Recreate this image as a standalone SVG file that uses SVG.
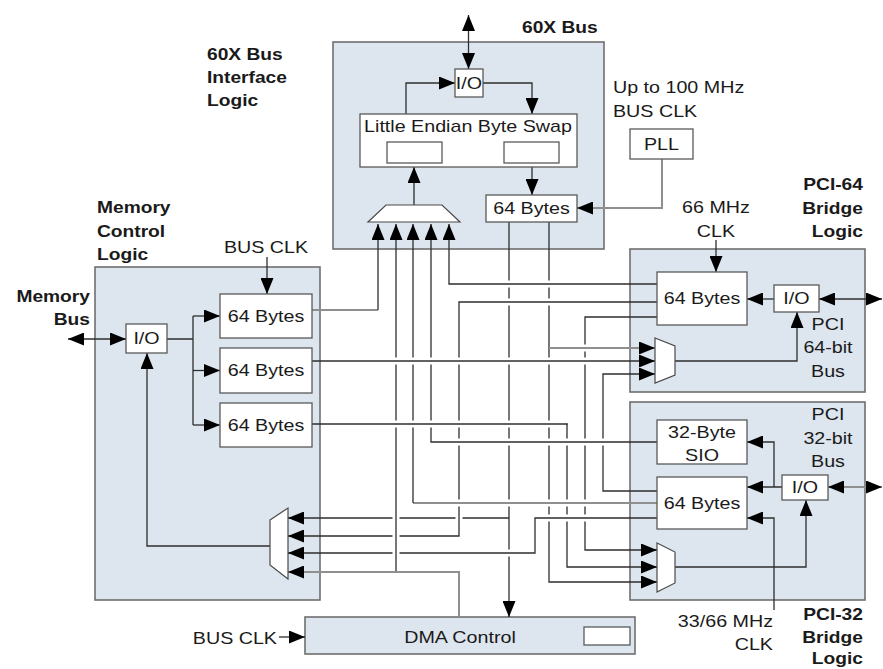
<svg xmlns="http://www.w3.org/2000/svg" width="883" height="669" viewBox="0 0 883 669">
<defs>
<style>
.t{font-family:"Liberation Sans",Arial,Helvetica,sans-serif;font-size:16.4px;fill:#1a1a1a;transform-box:fill-box;transform:scaleX(1.2)}
.c{text-anchor:middle;transform-origin:50% 50%}
.l{transform-origin:0% 50%}
.r{text-anchor:end;transform-origin:100% 50%}
.b{font-weight:bold;font-size:16px}
.blk{fill:#dde5ee;stroke:#6f6f6f;stroke-width:1.6}
.box{fill:#fff;stroke:#5a5a5a;stroke-width:1.3}
.mux{fill:#fff;stroke:#4a4a4a;stroke-width:1.2}
.ln{fill:none;stroke:#2e2e2e;stroke-width:1.3}
.g{fill:none;stroke:#8f8f8f;stroke-width:2}
.h{fill:none;stroke:#fff;stroke-width:7}
</style>
<marker id="a" viewBox="0 0 10 10" refX="10" refY="5" markerWidth="16" markerHeight="13" markerUnits="userSpaceOnUse" orient="auto-start-reverse" preserveAspectRatio="none"><path d="M0,0L10,5L0,10z" fill="#000"/></marker>
<clipPath id="mid"><rect x="321" y="250" width="308" height="366"/></clipPath>
</defs>
<rect width="883" height="669" fill="#fff"/>

<g id="block-60x">
<rect class="blk" x="333" y="42" width="271" height="207"/>
<text class="t b l" x="522" y="33">60X Bus</text>
<text class="t b l" x="207" y="60">60X Bus</text>
<text class="t b l" x="207" y="83">Interface</text>
<text class="t b l" x="207" y="106">Logic</text>
</g>
<g id="block-memory">
<rect class="blk" x="95" y="267" width="225" height="333"/>
<text class="t b l" x="97" y="213">Memory</text>
<text class="t b l" x="97" y="237">Control</text>
<text class="t b l" x="97" y="260">Logic</text>
<text class="t b r" x="90" y="302">Memory</text>
<text class="t b r" x="90" y="325">Bus</text>
<text class="t c" x="266" y="253">BUS CLK</text>
</g>
<g id="block-pci64">
<rect class="blk" x="630" y="249" width="235" height="143"/>
<text class="t b r" x="863" y="190">PCI-64</text>
<text class="t b r" x="863" y="214">Bridge</text>
<text class="t b r" x="863" y="237">Logic</text>
<text class="t c" x="716" y="213">66 MHz</text>
<text class="t c" x="716" y="237">CLK</text>
<text class="t c" x="828" y="330">PCI</text>
<text class="t c" x="828" y="353">64-bit</text>
<text class="t c" x="828" y="377">Bus</text>
</g>
<g id="block-pci32">
<rect class="blk" x="630" y="402" width="235" height="198"/>
<text class="t c" x="828" y="420">PCI</text>
<text class="t c" x="828" y="444">32-bit</text>
<text class="t c" x="828" y="467">Bus</text>
<text class="t r" x="773" y="627">33/66 MHz</text>
<text class="t r" x="773" y="650">CLK</text>
<text class="t b r" x="863" y="620">PCI-32</text>
<text class="t b r" x="863" y="643">Bridge</text>
<text class="t b r" x="863" y="664">Logic</text>
</g>
<g id="dma">
<rect class="blk" x="305" y="617" width="330" height="37"/>
<rect class="box" x="584" y="627" width="46" height="18"/>
<text class="t c" x="460" y="643">DMA Control</text>
<text class="t r" x="277" y="644">BUS CLK</text>
</g>
<g id="pll-label">
<text class="t l" x="613" y="93">Up to 100 MHz</text>
<text class="t l" x="613" y="117">BUS CLK</text>
</g>

<g id="connectors">
<path class="ln" d="M468.5,15 V69" marker-start="url(#a)" marker-end="url(#a)"/>
<path class="ln" d="M406,114 V83 H455" marker-end="url(#a)"/>
<path class="ln" d="M483,83 H532 V114" marker-end="url(#a)"/>
<path class="ln" d="M532,167 V195" marker-end="url(#a)"/>
<path class="ln" d="M414,205 V167" marker-end="url(#a)"/>
<path class="g" d="M662,159 V208 H577" marker-end="url(#a)"/>
<path class="ln" d="M267,257 V294" marker-end="url(#a)"/>
<path class="ln" d="M68,339 H126" marker-start="url(#a)" marker-end="url(#a)"/>
<path class="ln" d="M167,339 H193 M193,316 V425"/>
<path class="ln" d="M193,316 H220" marker-end="url(#a)"/>
<path class="ln" d="M193,370.5 H220" marker-end="url(#a)"/>
<path class="ln" d="M193,425 H220" marker-end="url(#a)"/>
<path class="ln" d="M270,546 H147 V353" marker-end="url(#a)"/>
<path class="ln" d="M716,240 V272" marker-end="url(#a)"/>
<path class="ln" d="M774,299 H747" marker-end="url(#a)"/>
<path class="ln" d="M819,299 H882" marker-start="url(#a)" marker-end="url(#a)"/>
<path class="ln" d="M675,361 H797 V312" marker-end="url(#a)"/>
<path class="ln" d="M782,487 H747" marker-end="url(#a)"/>
<path class="ln" d="M774,487 V442 H747" marker-end="url(#a)"/>
<path class="g" d="M828,487 H882" marker-start="url(#a)" marker-end="url(#a)"/>
<path class="ln" d="M774,610 V518 H747" marker-end="url(#a)"/>
<path class="ln" d="M675,567 H806 V500" marker-end="url(#a)"/>
<path class="ln" d="M279,637 H305" marker-end="url(#a)"/>
<g id="c9"><path class="h" clip-path="url(#mid)" d="M657,317 H585 V550 H657"/><path class="ln" d="M657,317 H585 V550 H657" marker-end="url(#a)"/></g>
<g id="c7"><path class="h" clip-path="url(#mid)" d="M549,222 V582 H657 M549,348 H655"/><path class="ln" d="M549,222 V582 H657" marker-end="url(#a)"/><path class="g" d="M549,348 H655" marker-end="url(#a)"/></g>
<g id="c6"><path class="h" clip-path="url(#mid)" d="M509,222 V617 M509,518 H288"/><path class="ln" d="M509,222 V617" marker-end="url(#a)"/><path class="ln" d="M509,518 H288" marker-end="url(#a)"/></g>
<g id="c12b"><path class="ln" d="M567,423.4 V567 H657" marker-end="url(#a)"/></g>
<g id="c11"><path class="h" clip-path="url(#mid)" d="M657,491 H603 V374 H655"/><path class="ln" d="M657,491 H603 V374 H655" marker-end="url(#a)"/></g>
<g id="c8"><path class="h" clip-path="url(#mid)" d="M657,302 H459 V536 H288"/><path class="ln" d="M657,302 H459 V536 H288" marker-end="url(#a)"/></g>
<g id="c13"><path class="h" clip-path="url(#mid)" d="M657,518 H535 V553 H288"/><path class="ln" d="M657,518 H535 V553 H288" marker-end="url(#a)"/></g>
<g id="c2"><path class="h" clip-path="url(#mid)" d="M396,572 V240"/><path class="ln" d="M396,572 V224" marker-end="url(#a)"/></g>
<g id="c3"><path class="h" clip-path="url(#mid)" d="M657,503 H413 V240"/><path class="g" d="M657,503 H413"/><path class="ln" d="M413,503 V224" marker-end="url(#a)"/></g>
<g id="c4"><path class="h" clip-path="url(#mid)" d="M657,442 H431 V240"/><path class="ln" d="M657,442 H431 V224" marker-end="url(#a)"/></g>
<g id="c5"><path class="h" clip-path="url(#mid)" d="M657,284 H449 V240"/><path class="ln" d="M657,284 H449 V224" marker-end="url(#a)"/></g>
<g id="c10"><path class="h" clip-path="url(#mid)" d="M312,361 H655"/><path class="ln" d="M312,361 H655" marker-end="url(#a)"/></g>
<g id="c12a"><path class="h" clip-path="url(#mid)" d="M312,424 H564"/><path class="ln" d="M312,424 H567.6"/></g>
<g id="c1"><path class="g" d="M312,310 H378"/><path class="ln" d="M378,310 V224" marker-end="url(#a)"/></g>
<g id="c14"><path class="g" d="M459,617 V572 H288" marker-end="url(#a)"/></g>
</g>

<g id="io-60x"><rect class="box" x="455" y="69" width="28" height="28"/><text class="t c" x="469" y="89">I/O</text></g>
<g id="byteswap"><rect class="box" x="360" y="114" width="217" height="53"/><rect class="box" x="387" y="142" width="55" height="21"/><rect class="box" x="504" y="142" width="55" height="21"/><text class="t c" x="468" y="132">Little Endian Byte Swap</text></g>
<g id="buf-60x"><rect class="box" x="486" y="195" width="91" height="27"/><text class="t c" x="531.5" y="214">64 Bytes</text></g>
<g id="mux-60x"><polygon class="mux" points="386,205 442,205 460,222 368,222"/></g>
<g id="pll"><rect class="box" x="630" y="129" width="63" height="30"/><text class="t c" x="661.5" y="150">PLL</text></g>
<g id="io-mem"><rect class="box" x="126" y="324" width="41" height="29"/><text class="t c" x="146.5" y="344">I/O</text></g>
<g id="buf-mem1"><rect class="box" x="220" y="294" width="92" height="44"/><text class="t c" x="266" y="322">64 Bytes</text></g>
<g id="buf-mem2"><rect class="box" x="220" y="348" width="92" height="45"/><text class="t c" x="266" y="376">64 Bytes</text></g>
<g id="buf-mem3"><rect class="box" x="220" y="403" width="92" height="44"/><text class="t c" x="266" y="431">64 Bytes</text></g>
<g id="mux-mem"><polygon class="mux" points="270,520 288,508 288,579 270,565"/></g>
<g id="buf-pci64"><rect class="box" x="657" y="272" width="90" height="53"/><text class="t c" x="702" y="304">64 Bytes</text></g>
<g id="io-pci64"><rect class="box" x="774" y="285" width="45" height="27"/><text class="t c" x="796.5" y="304">I/O</text></g>
<g id="mux-pci64"><polygon class="mux" points="655,338 675,346 675,375 655,383"/></g>
<g id="sio-pci32"><rect class="box" x="657" y="420" width="90" height="44"/><text class="t c" x="702" y="438">32-Byte</text><text class="t c" x="702" y="461">SIO</text></g>
<g id="buf-pci32"><rect class="box" x="657" y="477" width="90" height="52"/><text class="t c" x="702" y="509">64 Bytes</text></g>
<g id="io-pci32"><rect class="box" x="782" y="475" width="46" height="25"/><text class="t c" x="805" y="493">I/O</text></g>
<g id="mux-pci32"><polygon class="mux" points="657,543 675,552 675,583 657,592"/></g>
</svg>
